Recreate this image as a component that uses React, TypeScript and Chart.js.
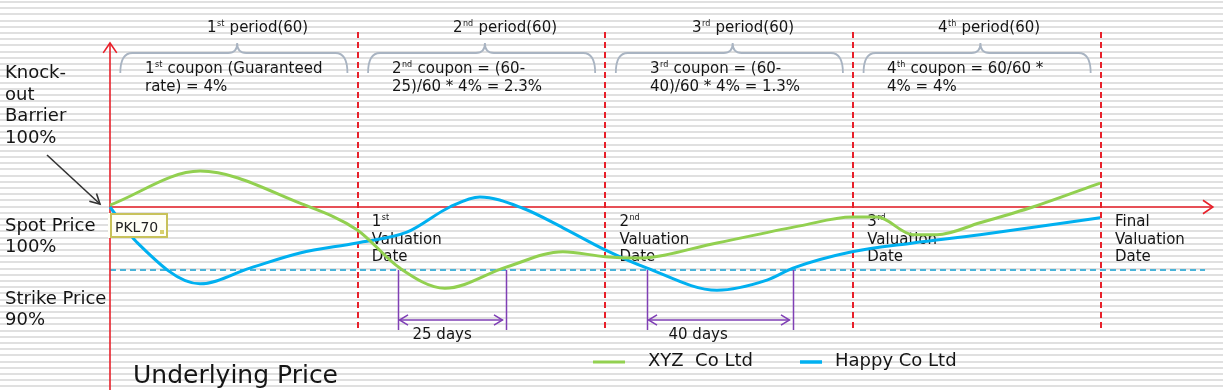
import React, { useEffect, useRef } from "react";
import { Chart, registerables } from "chart.js";

Chart.register(...registerables);

// ---- data ----
const xyzDays = [0, 21.8, 46.0, 59.8, 70.2, 81.1, 96.1, 109.7, 119.9, 127.6, 147.0, 167.1, 179.7, 185.8, 194.5, 200.3, 210.7, 223.5, 239.8];
const xyzValues = [100.3, 105.7, 100.6, 96.4, 90.3, 87.1, 90.5, 92.9, 92.1, 91.9, 94.3, 97.0, 98.4, 98.4, 95.6, 95.6, 97.5, 100.0, 103.8];
const happyDays = [0, 6.5, 21.8, 33.9, 46.0, 59.8, 71.9, 82.3, 89.6, 100.0, 109.7, 119.9, 130.1, 147.0, 159.1, 165.4, 179.7, 194.5, 210.7, 239.8];
const happyValues = [100.0, 94.4, 87.8, 90.3, 92.7, 94.3, 96.0, 100.0, 101.6, 99.8, 96.7, 93.2, 90.3, 86.8, 88.4, 90.3, 92.9, 94.3, 95.6, 98.3];

const seriesNames = ["XYZ  Co Ltd", "Happy Co Ltd"];
const periodEnds = [60, 120, 180, 240];
const periodOrdinals = [["1", "st"], ["2", "nd"], ["3", "rd"], ["4", "th"]];
const couponFirst = [" coupon (Guaranteed", " coupon = (60-", " coupon = (60-", " coupon = 60/60 *"];
const couponSecond = ["rate) = 4%", "25)/60 * 4% = 2.3%", "40)/60 * 4% = 1.3%", "4% = 4%"];
const valuationFirst = [["1", "st"], ["2", "nd"], ["3", "rd"], ["Final", ""]];
const gapStart = [69.7, 130.1];
const gapEnd = [95.9, 165.3];
const gapLabels = ["25 days", "40 days"];
const barrierLevel = 100;
const strikeLevel = 90;

// ---- layout ----
const X_MIN = -26.64;
const X_MAX = 269.55;
const Y_MIN = 70.95;
const Y_MAX = 132.86;
const periodLabelX = [207, 453, 692, 938];
const couponX = [145, 392, 650, 887];
const gapLabelOffset = [14, 21];

const FONT = '"DejaVu Sans", Verdana, sans-serif';
const RED = "#e8202a";
const GREEN = "#92d050";
const BLUE = "#00b0f0";
const PURPLE = "#7f3fb5";
const TEXT = "#151515";

function font(size: number) {
  return `${size}px ${FONT}`;
}

function drawSup(ctx: CanvasRenderingContext2D, x: number, y: number, base: string, sup: string, rest: string, size: number) {
  ctx.font = font(size);
  ctx.fillText(base, x, y);
  let cx = x + ctx.measureText(base).width;
  if (sup) {
    ctx.font = font(Math.round(size * 0.5));
    ctx.fillText(sup, cx + 0.5, y - size * 0.42);
    cx += ctx.measureText(sup).width + 1;
  }
  ctx.font = font(size);
  ctx.fillText(rest, cx, y);
}

function chevron(ctx: CanvasRenderingContext2D, tx: number, ty: number, angle: number, len: number, spread: number) {
  ctx.beginPath();
  ctx.moveTo(tx + len * Math.cos(angle + Math.PI - spread), ty + len * Math.sin(angle + Math.PI - spread));
  ctx.lineTo(tx, ty);
  ctx.lineTo(tx + len * Math.cos(angle + Math.PI + spread), ty + len * Math.sin(angle + Math.PI + spread));
  ctx.stroke();
}

const decoPlugin = {
  id: "deco",
  beforeDraw(chart: any) {
    const { ctx, width, height } = chart;
    ctx.save();
    ctx.fillStyle = "#ffffff";
    ctx.fillRect(0, 0, width, height);
    ctx.fillStyle = "#e0e0e0";
    for (let y = 1; y < height; y += 6.2) ctx.fillRect(0, Math.round(y), width, 2);
    ctx.restore();
  },
  beforeDatasetsDraw(chart: any) {
    const { ctx } = chart;
    const xs = chart.scales.x;
    const ys = chart.scales.y;
    const px = (d: number) => xs.getPixelForValue(d);
    const py = (v: number) => ys.getPixelForValue(v);
    const x0 = px(0);
    const yB = py(barrierLevel);
    const yS = py(strikeLevel);
    ctx.save();

    // red dashed period boundaries
    ctx.strokeStyle = RED;
    ctx.lineWidth = 2;
    ctx.setLineDash([6, 4]);
    for (const d of periodEnds) {
      const x = Math.round(px(d));
      ctx.beginPath();
      ctx.moveTo(x, 32);
      ctx.lineTo(x, 331);
      ctx.stroke();
    }
    // strike dashed line
    ctx.strokeStyle = "#4bb3d8";
    ctx.beginPath();
    ctx.moveTo(x0, Math.round(yS));
    ctx.lineTo(px(265.2), Math.round(yS));
    ctx.stroke();
    ctx.setLineDash([]);

    // axes
    ctx.strokeStyle = RED;
    ctx.lineWidth = 1.6;
    ctx.beginPath();
    ctx.moveTo(x0, 390);
    ctx.lineTo(x0, 43);
    ctx.stroke();
    chevron(ctx, x0, 43, -Math.PI / 2, 12, 0.6);
    const xEnd = px(267.1);
    ctx.beginPath();
    ctx.moveTo(x0, yB);
    ctx.lineTo(xEnd, yB);
    ctx.stroke();
    chevron(ctx, xEnd, yB, 0, 12, 0.6);

    // braces
    ctx.strokeStyle = "#a9b4c2";
    ctx.lineWidth = 1.8;
    periodEnds.forEach((end) => {
      const start = end - 60;
      const a = px(start + 2.5);
      const b = px(end - 2.5);
      const m = px(start + 30.8);
      const top = 53;
      ctx.beginPath();
      ctx.moveTo(a, 73);
      ctx.quadraticCurveTo(a, top, a + 12, top);
      ctx.lineTo(m - 9, top);
      ctx.quadraticCurveTo(m, top, m, 43);
      ctx.quadraticCurveTo(m, top, m + 9, top);
      ctx.lineTo(b - 12, top);
      ctx.quadraticCurveTo(b, top, b, 73);
      ctx.stroke();
    });

    // texts
    ctx.fillStyle = TEXT;
    ctx.textBaseline = "alphabetic";
    ctx.textAlign = "left";
    periodOrdinals.forEach((o, i) => {
      drawSup(ctx, periodLabelX[i], 32, o[0], o[1], " period(60)", 15);
      drawSup(ctx, couponX[i], 73, o[0], o[1], couponFirst[i], 15);
      ctx.font = font(15);
      ctx.fillText(couponSecond[i], couponX[i], 91);
    });

    // valuation labels
    periodEnds.forEach((end, i) => {
      const x = px(end) + 14;
      const v = valuationFirst[i];
      drawSup(ctx, x, 226, v[0], v[1], "", 15);
      ctx.font = font(15);
      ctx.fillText("Valuation", x, 244);
      ctx.fillText("Date", x, 261);
    });

    // left labels
    ctx.font = font(18);
    ["Knock-", "out", "Barrier", "100%"].forEach((t, i) => ctx.fillText(t, 5, 78 + i * 21.7));
    ctx.fillText("Spot Price", 5, 231);
    ctx.fillText("100%", 5, 252);
    ctx.fillText("Strike Price", 5, 304);
    ctx.fillText("90%", 5, 325);

    // purple gap brackets
    ctx.strokeStyle = PURPLE;
    ctx.lineWidth = 1.5;
    gapStart.forEach((s, i) => {
      const a = Math.round(px(s)) + 0.5;
      const b = Math.round(px(gapEnd[i])) + 0.5;
      ctx.beginPath();
      ctx.moveTo(a, yS);
      ctx.lineTo(a, 330);
      ctx.moveTo(b, yS);
      ctx.lineTo(b, 330);
      ctx.moveTo(a + 1, 320);
      ctx.lineTo(b - 4, 320);
      ctx.stroke();
      chevron(ctx, a + 1, 320, Math.PI, 10, 0.55);
      chevron(ctx, b - 4, 320, 0, 10, 0.55);
      ctx.fillStyle = TEXT;
      ctx.font = font(15);
      ctx.fillText(gapLabels[i], a + gapLabelOffset[i], 339);
    });
    ctx.restore();
  },
  afterDatasetsDraw(chart: any) {
    const { ctx } = chart;
    ctx.save();
    // PKL70 box
    ctx.fillStyle = "#fffff6";
    ctx.fillRect(108, 213, 60, 25);
    ctx.strokeStyle = "#c8c25a";
    ctx.lineWidth = 2;
    ctx.strokeRect(111, 214, 56, 23);
    ctx.fillStyle = "#222";
    ctx.font = font(14);
    ctx.fillText("PKL70", 115, 232);
    ctx.fillStyle = "#d8d070";
    ctx.fillRect(160, 230, 4, 4);

    // black arrow to origin
    ctx.strokeStyle = "#333";
    ctx.lineWidth = 1.6;
    ctx.beginPath();
    ctx.moveTo(47, 155);
    ctx.lineTo(100, 204);
    ctx.stroke();
    chevron(ctx, 100, 204, Math.atan2(49, 53), 11, 0.5);

    // legend
    ctx.lineWidth = 3;
    ctx.strokeStyle = GREEN;
    ctx.beginPath();
    ctx.moveTo(593, 362);
    ctx.lineTo(625, 362);
    ctx.stroke();
    ctx.strokeStyle = BLUE;
    ctx.lineWidth = 3.5;
    ctx.beginPath();
    ctx.moveTo(800, 362);
    ctx.lineTo(822, 362);
    ctx.stroke();
    ctx.fillStyle = TEXT;
    ctx.font = font(18);
    ctx.fillText(seriesNames[0], 648, 366);
    ctx.fillText(seriesNames[1], 835, 366);

    ctx.font = font(25);
    ctx.fillText("Underlying Price", 133, 383);
    ctx.restore();
  },
};

export default function App() {
  const ref = useRef<HTMLCanvasElement>(null);
  useEffect(() => {
    const chart = new Chart(ref.current as HTMLCanvasElement, {
      type: "line",
      data: {
        datasets: [
          {
            label: seriesNames[0],
            data: xyzDays.map((d, i) => ({ x: d, y: xyzValues[i] })),
            borderColor: GREEN,
            borderWidth: 3,
            pointRadius: 0,
            fill: false,
            cubicInterpolationMode: "monotone",
          },
          {
            label: seriesNames[1],
            data: happyDays.map((d, i) => ({ x: d, y: happyValues[i] })),
            borderColor: BLUE,
            borderWidth: 3,
            pointRadius: 0,
            fill: false,
            cubicInterpolationMode: "monotone",
          },
        ],
      },
      options: {
        responsive: false,
        animation: false,
        events: [],
        layout: { padding: 0 },
        plugins: { legend: { display: false }, tooltip: { enabled: false }, title: { display: false } },
        scales: {
          x: { type: "linear", min: X_MIN, max: X_MAX, display: false },
          y: { type: "linear", min: Y_MIN, max: Y_MAX, display: false },
        },
      },
      plugins: [decoPlugin],
    } as any);
    return () => chart.destroy();
  }, []);
  return (
    <div style={{ position: "fixed", left: 0, top: 0, width: 1223, height: 390 }}>
      <canvas ref={ref} width={1223} height={390} style={{ display: "block" }} />
    </div>
  );
}
